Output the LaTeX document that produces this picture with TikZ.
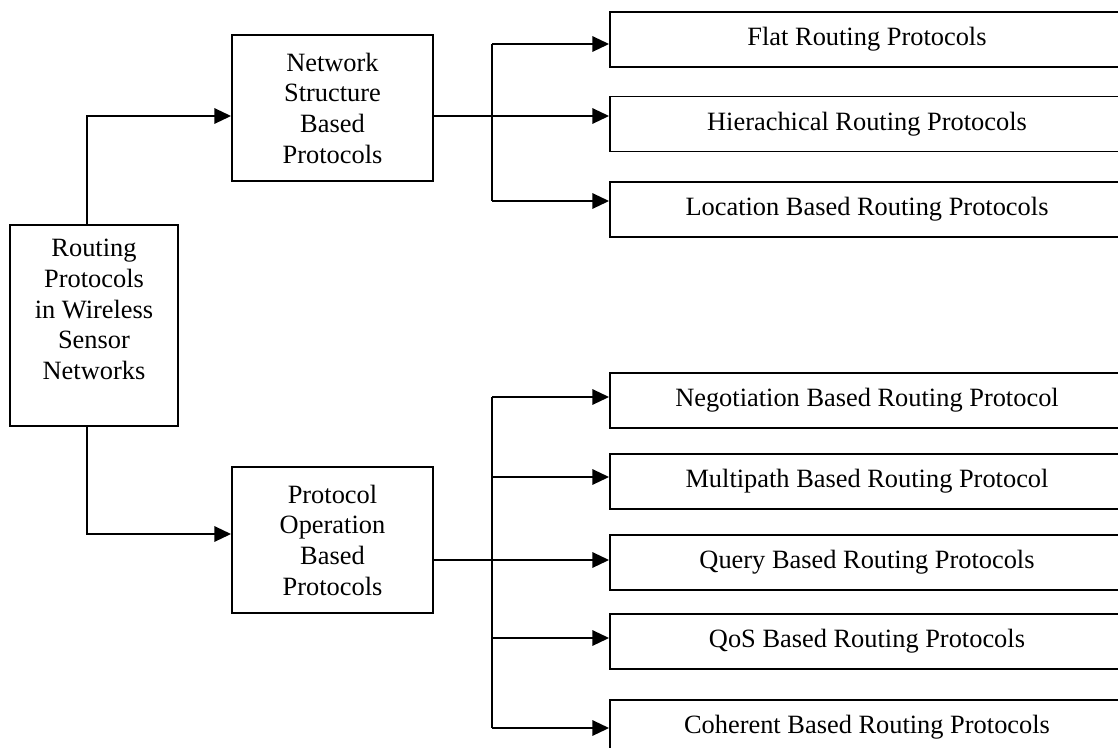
\documentclass[tikz,border=0pt]{standalone}
\usepackage{fontspec}
\setmainfont{Liberation Serif}
\usetikzlibrary{arrows.meta,calc}
\begin{document}
\begin{tikzpicture}[x=0.75pt,y=-0.75pt,
  box/.style={draw,line width=1.4pt,inner sep=0pt,align=center,font=\fontsize{19.8pt}{23pt}\selectfont},
  wide/.style={box,minimum width=385.5pt,minimum height=41.25pt},
  mid/.style={box,minimum width=150.75pt,minimum height=109.5pt},
  txt/.style={inner sep=0pt,align=center,font=\fontsize{19.8pt}{23pt}\selectfont},
  arr/.style={line width=1.5pt,-{Triangle[length=12.5pt,width=11.5pt]}},
  link/.style={line width=1pt}]
\useasboundingbox (0,0) rectangle (1118,747);
% root
\node[box,minimum width=126pt,minimum height=150.75pt] (root) at (94,325.5) {};
\node[txt,anchor=north] (roottxt) at (94,239) {Routing\\Protocols\\in Wireless\\Sensor\\Networks};
% middle level
\node[mid] (net) at (332.5,108) {Network\\Structure\\Based\\Protocols};
\node[mid] (op) at (332.5,540) {Protocol\\Operation\\Based\\Protocols};
% right boxes
\node[wide] (flat) at (867,39.5) {Flat Routing Protocols};
\node[wide] (hier) at (867,124) {Hierachical Routing Protocols};
\node[wide] (loc) at (867,209.5) {Location Based Routing Protocols};
\node[wide] (neg) at (867,400.5) {Negotiation Based Routing Protocol};
\node[wide] (multi) at (867,481.5) {Multipath Based Routing Protocol};
\node[wide] (query) at (867,562.5) {Query Based Routing Protocols};
\node[wide] (qos) at (867,641.5) {QoS Based Routing Protocols};
\node[wide] (coh) at (867,727.5) {Coherent Based Routing Protocols};
% coordinates
\coordinate (rt) at (87,116);
\coordinate (rb) at (87,534);
\coordinate (t1) at (492,44);
\coordinate (t2) at (492,116);
\coordinate (t3) at (492,201);
\coordinate (b1) at (492,397);
\coordinate (b2) at (492,477);
\coordinate (b3) at (492,560);
\coordinate (b4) at (492,638);
\coordinate (b5) at (492,728);
% root connectors
\draw[arr] (root.north -| rt) -- (rt) -- (net.west |- rt);
\draw[arr] (root.south -| rb) -- (rb) -- (op.west |- rb);
% network branch
\draw[link] (net.east |- t2) -- (t2);
\draw[line width=1.5pt] (t1) -- (t3);
\draw[arr] (t1) -- (flat.west |- t1);
\draw[arr] (t2) -- (hier.west |- t2);
\draw[arr] (t3) -- (loc.west |- t3);
% operation branch
\draw[link] (op.east |- b3) -- (b3);
\draw[line width=1.5pt] (b1) -- (b5);
\draw[arr] (b1) -- (neg.west |- b1);
\draw[arr] (b2) -- (multi.west |- b2);
\draw[arr] (b3) -- (query.west |- b3);
\draw[arr] (b4) -- (qos.west |- b4);
\draw[arr] (b5) -- (coh.west |- b5);
\end{tikzpicture}
\end{document}
